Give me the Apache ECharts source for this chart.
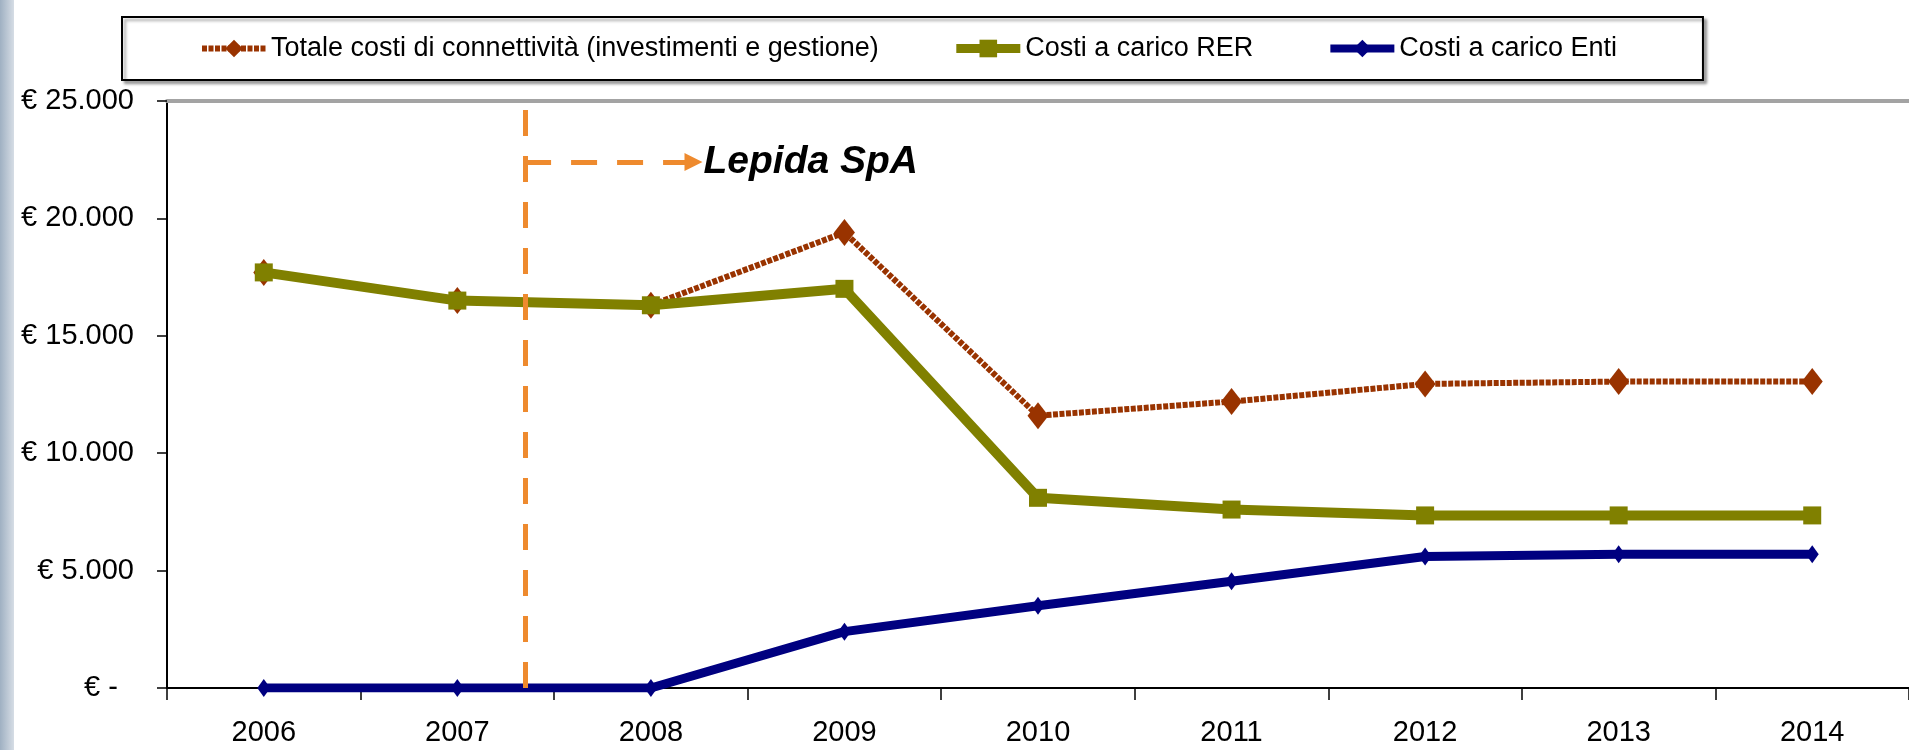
<!DOCTYPE html>
<html>
<head>
    <meta charset="utf-8">
    <title>Costi di connettività</title>
    <script src="https://cdn.jsdelivr.net/npm/echarts@6/dist/echarts.min.js"></script>
    <style>
        html, body { margin: 0; padding: 0; background: #fff; }
        #main { width: 1909px; height: 750px; }
    </style>
</head>
<body>
    <div id="main"></div>
    <script type="text/javascript">
        // categorie (asse X)
        var anni = ['2006', '2007', '2008', '2009', '2010', '2011', '2012', '2013', '2014'];
        // valori in euro
        var totale = [17700, 16500, 16300, 19400, 11600, 12200, 12950, 13050, 13050];
        var costiRER = [17700, 16500, 16300, 17000, 8100, 7600, 7350, 7350, 7350];
        var costiEnti = [0, 0, 0, 2400, 3500, 4550, 5600, 5700, 5700];
        // tacche asse Y
        var yMin = 0, yMax = 25000, yStep = 5000;
        // annotazione Lepida SpA (posizione in indici di categoria / valore)
        var lepidaX = 1.35, lepidaArrowEnd = 2.22, lepidaY = 22400;

        var font = "'Liberation Sans', Arial, sans-serif";

        function euro(v) {
            if (v === 0) return '€ -  ';
            return '€ ' + String(v).replace(/\B(?=(\d{3})+(?!\d))/g, '.');
        }

        var chart = echarts.init(document.getElementById('main'));
        chart.setOption({
            animation: false,
            backgroundColor: '#fff',
            textStyle: { fontFamily: font },
            graphic: [{
                type: 'rect',
                left: 0, top: 0,
                shape: { width: 14, height: 750 },
                style: {
                    fill: new echarts.graphic.LinearGradient(0, 0, 1, 0, [
                        { offset: 0, color: '#9fb0c2' },
                        { offset: 1, color: '#d6dde5' }
                    ])
                },
                silent: true
            }],
            legend: {
                left: 122,
                top: 17,
                padding: [18, 86, 18, 77],
                itemWidth: 64,
                itemHeight: 22,
                itemGap: 73,
                backgroundColor: '#fff',
                borderColor: '#000',
                borderWidth: 2,
                shadowColor: 'rgba(0,0,0,0.35)',
                shadowBlur: 3,
                shadowOffsetX: 3,
                shadowOffsetY: 3,
                textStyle: { fontSize: 27, color: '#000', fontFamily: font },
                data: [
                    { name: 'Totale costi di connettività (investimenti e gestione)', lineStyle: { width: 6 } },
                    { name: 'Costi a carico RER', lineStyle: { width: 9 } },
                    { name: 'Costi a carico Enti', lineStyle: { width: 8 } }
                ]
            },
            grid: { left: 167, right: -8, top: 101, bottom: 62 },
            xAxis: [{
                type: 'category',
                data: anni,
                boundaryGap: true,
                axisLine: { lineStyle: { color: '#000', width: 2 } },
                axisTick: { show: true, length: 12, lineStyle: { color: '#000', width: 1.5 } },
                axisLabel: { margin: 30, fontSize: 29, color: '#000', fontFamily: font },
                splitLine: { show: false }
            }, {
                type: 'category',
                data: anni,
                position: 'top',
                axisLine: { lineStyle: { color: '#a3a3a3', width: 4 } },
                axisTick: { show: false },
                axisLabel: { show: false },
                splitLine: { show: false }
            }, {
                // asse nascosto per posizionare l'annotazione tra le categorie
                type: 'value',
                show: false,
                min: -0.5,
                max: anni.length - 0.5
            }],
            yAxis: {
                type: 'value',
                min: yMin,
                max: yMax,
                interval: yStep,
                axisLine: { show: true, onZero: false, lineStyle: { color: '#000', width: 2 } },
                axisTick: { show: true, length: 10, lineStyle: { color: '#000', width: 1.5 } },
                axisLabel: { margin: 33, fontSize: 29, color: '#000', fontFamily: font, formatter: euro },
                splitLine: { show: false }
            },
            series: [{
                name: 'Totale costi di connettività (investimenti e gestione)',
                type: 'line',
                data: totale,
                symbol: 'diamond',
                symbolSize: [21, 27],
                itemStyle: { color: '#993300' },
                lineStyle: { color: '#993300', width: 6, type: [5, 1.5] },
                z: 2
            }, {
                name: 'Costi a carico RER',
                type: 'line',
                data: costiRER,
                symbol: 'rect',
                symbolSize: 18,
                itemStyle: { color: '#808000' },
                lineStyle: { color: '#808000', width: 10 },
                z: 3
            }, {
                name: 'Costi a carico Enti',
                type: 'line',
                data: costiEnti,
                symbol: 'diamond',
                symbolSize: [13, 18],
                itemStyle: { color: '#000080' },
                lineStyle: { color: '#000080', width: 9 },
                z: 4
            }, {
                name: 'Lepida',
                type: 'line',
                xAxisIndex: 2,
                data: [],
                z: 5,
                markLine: {
                    silent: true,
                    animation: false,
                    symbol: ['none', 'none'],
                    lineStyle: { color: '#EE8A2E', width: 5, type: [26, 20] },
                    label: { show: false },
                    data: [
                        [{ coord: [lepidaX, yMin] }, { coord: [lepidaX, yMax] }],
                        [{ coord: [lepidaX, lepidaY], symbol: 'none' },
                         { coord: [lepidaArrowEnd, lepidaY], symbol: 'triangle', symbolSize: [18, 18],
                           label: {
                               show: true,
                               position: 'end',
                               distance: 10,
                               formatter: 'Lepida SpA',
                               fontSize: 39,
                               fontWeight: 'bold',
                               fontStyle: 'italic',
                               color: '#000',
                               fontFamily: font
                           } }]
                    ]
                }
            }]
        });
    </script>
</body>
</html>
